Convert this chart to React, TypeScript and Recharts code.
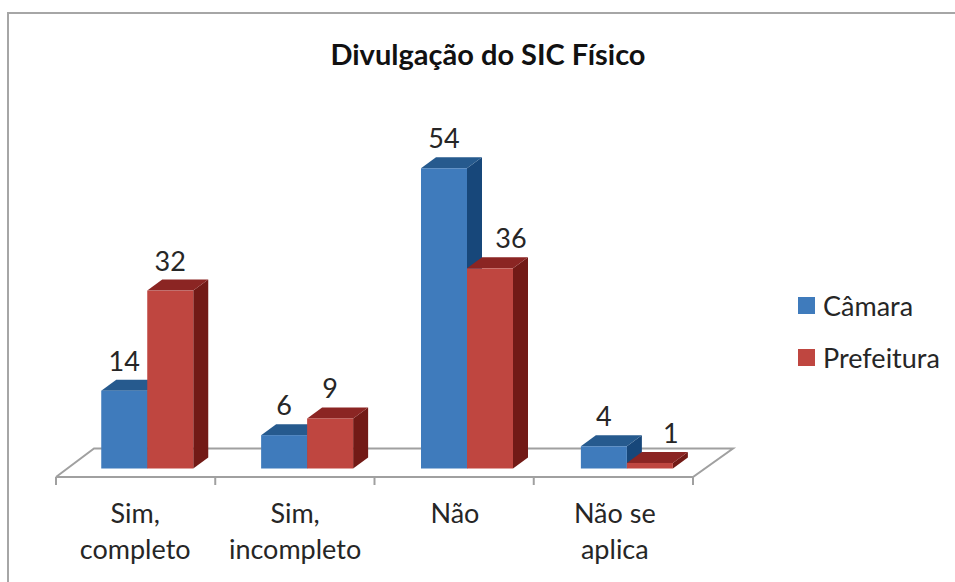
import { Bar, BarChart, LabelList, XAxis, YAxis } from 'recharts'

const categories = ['Sim, completo', 'Sim, incompleto', 'Não', 'Não se aplica']
const categoryLines = [['Sim,', 'completo'], ['Sim,', 'incompleto'], ['Não'], ['Não se', 'aplica']]
const camara = [14, 6, 54, 4]
const prefeitura = [32, 9, 36, 1]

const data = categories.map((name, i) => ({
  name,
  lines: categoryLines[i],
  camara: camara[i],
  prefeitura: prefeitura[i],
}))

const FONT = 'Lato, sans-serif'
const INK = '#262626'
const BLUE = { front: '#3f7bbc', top: '#265a8e', side: '#17477a' }
const RED = { front: '#bf4640', top: '#8b2523', side: '#721a16' }
const DEPTH_X = 15
const DEPTH_Y = 11

// floor of the fake 3D plot
const FLOOR = '#a0a0a0'
const floorTicks = [56, 215.25, 374.5, 533.75, 693]

const legendItems = [
  { label: 'Câmara', color: BLUE.front },
  { label: 'Prefeitura', color: RED.front },
]

function Box3D(props: any, c: typeof BLUE) {
  const { x, y, width, height } = props
  const r = x + width
  const b = y + height
  return (
    <g>
      <polygon points={`${r},${y} ${r + DEPTH_X},${y - DEPTH_Y} ${r + DEPTH_X},${b - DEPTH_Y} ${r},${b}`} fill={c.side} />
      <polygon points={`${x},${y} ${x + DEPTH_X},${y - DEPTH_Y} ${r + DEPTH_X},${y - DEPTH_Y} ${r},${y}`} fill={c.top} />
      <rect x={x} y={y} width={width} height={height} fill={c.front} />
    </g>
  )
}

function ValueLabel({ x, y, width, value, nudge }: any) {
  return (
    <text
      x={x + width / 2 + (nudge ? 21 : 0)}
      y={y - 20}
      textAnchor="middle"
      fontFamily={FONT}
      fontSize={27}
      fill={INK}
    >
      {value}
    </text>
  )
}

function CategoryTick({ x, y, payload, index }: any) {
  const lines = data[index]?.lines ?? [payload.value]
  return (
    <text x={x - 12} y={y + 46} textAnchor="middle" fontFamily={FONT} fontSize={27} fill={INK}>
      {lines.map((l: string, i: number) => (
        <tspan key={i} x={x - 12} dy={i === 0 ? 0 : 36}>
          {l}
        </tspan>
      ))}
    </text>
  )
}

export default function App() {
  return (
    <div style={{ position: 'absolute', left: 0, top: 0, width: 955, height: 582, background: '#fff' }}>
      <div style={{ position: 'absolute', left: 7, top: 12, width: 948, height: 570, borderLeft: '2px solid #a6a6a6', borderTop: '2px solid #a6a6a6', boxSizing: 'border-box' }} />
      <BarChart
        width={955}
        height={582}
        data={data}
        barSize={46}
        barGap={0}
        margin={{ top: 134.9, right: 248.25, bottom: 0, left: 67.25 }}
        style={{ position: 'absolute', left: 0, top: 0 }}
      >
        <text x={488} y={65} textAnchor="middle" fontFamily={FONT} fontSize={29} fontWeight={700} fill="#111">
          Divulgação do SIC Físico
        </text>
        <polyline points="56,477 94,448.5 733,448.5 693,477 56,477" fill="none" stroke={FLOOR} strokeWidth={2} />
        {floorTicks.map((t) => (
          <line key={t} x1={t} x2={t} y1={477} y2={485} stroke={FLOOR} strokeWidth={2} />
        ))}
        <XAxis dataKey="name" height={113.5} axisLine={false} tickLine={false} interval={0} tick={CategoryTick} />
        <YAxis hide domain={[0, 60]} />
        <Bar
          dataKey="camara"
          name="Câmara"
          fill={BLUE.front}
          isAnimationActive={false}
          shape={(p: any) => Box3D(p, BLUE)}
        >
          <LabelList dataKey="camara" content={(p: any) => <ValueLabel {...p} />} />
        </Bar>
        <Bar
          dataKey="prefeitura"
          name="Prefeitura"
          fill={RED.front}
          isAnimationActive={false}
          shape={(p: any) => Box3D(p, RED)}
        >
          <LabelList
            dataKey="prefeitura"
            content={(p: any) => <ValueLabel {...p} nudge={p.index === 2 || p.index === 3} />}
          />
        </Bar>
      </BarChart>
      <div style={{ position: 'absolute', left: 798, top: 279, fontFamily: FONT, fontSize: 27, color: INK }}>
        {legendItems.map((it) => (
          <div key={it.label} style={{ display: 'flex', alignItems: 'center', height: 52 }}>
            <span style={{ width: 17, height: 17, background: it.color, marginRight: 8 }} />
            {it.label}
          </div>
        ))}
      </div>
    </div>
  )
}
